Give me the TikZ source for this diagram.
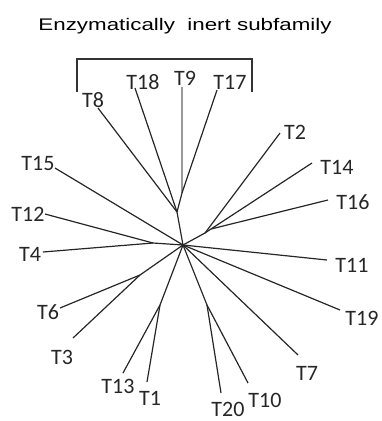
\documentclass[tikz,border=0pt]{standalone}
\usepackage{fontspec}
\newfontfamily\labfont{Carlito}
\newfontfamily\titfont{Liberation Sans}
\begin{document}
\begin{tikzpicture}[x=1pt,y=-1pt,
  br/.style={draw=black!85,line width=1.2pt},
  graybr/.style={draw=black!40,line width=1.2pt},
  lab/.style={inner sep=0pt,font=\labfont\fontsize{22}{22}\selectfont,text=black!85},
  brk/.style={draw=black!80,line width=1.6pt}]
\useasboundingbox (0,0) rectangle (381,421);
% title
\node[inner sep=0pt,anchor=base,text=black] (title) at (185,30)
  {\scalebox{1.33}[1]{\titfont\fontsize{16.8}{17}\selectfont Enzymatically\ \ inert subfamily}};
% bracket
\coordinate (bl) at (77,92);
\coordinate (bt1) at (77,59);
\coordinate (bt2) at (252,59);
\coordinate (brr) at (252,92);
\draw[brk] (bl) -- (bt1) -- (bt2) -- (brr);
% internal nodes
\coordinate (C) at (183,245);
\coordinate (A1) at (177,212);
\coordinate (A2) at (182,193);
\coordinate (B) at (205,233);
\coordinate (B1) at (211,229);
\coordinate (D) at (153,243);
\coordinate (E) at (140,275);
\coordinate (F) at (160,305);
\coordinate (G) at (207,305);
% leaf ends
\coordinate (e8) at (98,108);
\coordinate (e18) at (135,88);
\coordinate (e9) at (182,87);
\coordinate (e17) at (217,90);
\coordinate (e2) at (280,133);
\coordinate (e14) at (312,163);
\coordinate (e16) at (328,200);
\coordinate (e15) at (55,168);
\coordinate (e12) at (45,214);
\coordinate (e4) at (43,252);
\coordinate (e11) at (327,260);
\coordinate (e6) at (60,308);
\coordinate (e19) at (340,310);
\coordinate (e3) at (73,338);
\coordinate (e7) at (298,355);
\coordinate (e13) at (123,373);
\coordinate (e1) at (147,382);
\coordinate (e20) at (221,393);
\coordinate (e10) at (248,383);
% labels
\node[lab] (T8) at (93,100) {T8};
\node[lab] (T18) at (143,82) {T18};
\node[lab] (T9) at (185,78) {T9};
\node[lab] (T17) at (230,82) {T17};
\node[lab] (T2) at (295,132) {T2};
\node[lab] (T14) at (337,167) {T14};
\node[lab] (T16) at (353,202) {T16};
\node[lab] (T15) at (38,163) {T15};
\node[lab] (T12) at (28,214) {T12};
\node[lab] (T4) at (30,254) {T4};
\node[lab] (T11) at (352,265) {T11};
\node[lab] (T6) at (48,312) {T6};
\node[lab] (T19) at (362,318) {T19};
\node[lab] (T3) at (62,357) {T3};
\node[lab] (T7) at (307,373) {T7};
\node[lab] (T13) at (118,386) {T13};
\node[lab] (T1) at (150,398) {T1};
\node[lab] (T20) at (228,409) {T20};
\node[lab] (T10) at (265,400) {T10};
% branches
\draw[graybr] (A2) -- (e9);
\draw[br] (C) -- (A1) -- (A2) -- (e17);
\draw[br] (A1) -- (e8);
\draw[br] (A1) -- (e18);
\draw[br] (C) -- (B) -- (e2);
\draw[br] (B) -- (B1) -- (e14);
\draw[br] (B1) -- (e16);
\draw[br] (C) -- (e15);
\draw[br] (C) -- (D) -- (e12);
\draw[br] (D) -- (e4);
\draw[br] (C) -- (e11);
\draw[br] (C) -- (e19);
\draw[br] (C) -- (e7);
\draw[br] (C) -- (E) -- (e6);
\draw[br] (E) -- (e3);
\draw[br] (C) -- (F) -- (e13);
\draw[br] (F) -- (e1);
\draw[br] (C) -- (G) -- (e20);
\draw[br] (G) -- (e10);
\end{tikzpicture}
\end{document}
